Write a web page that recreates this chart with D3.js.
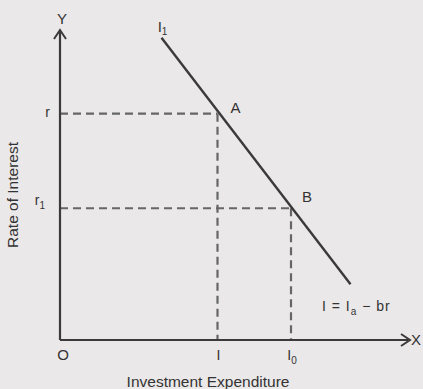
<!DOCTYPE html>
<html><head><meta charset="utf-8">
<script src="https://cdn.jsdelivr.net/npm/d3@7"></script>
<style>html,body{margin:0;padding:0;background:#ebe8e9;}svg{display:block;}</style>
</head><body>
<script>
// Data (abstract units)
const points = ["A", "B"];
const pointI = [4.5, 6.6];     // investment at A, B
const pointR = [7.3, 4.25];    // rate of interest at A, B
const xTickLabels = ["I", "I0"];
const yTickLabels = ["r", "r1"];
const lineI = [2.9, 8.3];      // investment demand curve endpoints
const lineR = [9.75, 1.8];

const W = 423, H = 389;
const svg = d3.select("body").append("svg").attr("width", W).attr("height", H)
  .style("font-family", "'Liberation Sans', Arial, sans-serif");
svg.append("rect").attr("width", W).attr("height", H).attr("fill", "#ebe8e9");

const x = d3.scaleLinear().domain([0, 10]).range([60, 410]);
const y = d3.scaleLinear().domain([0, 10]).range([340, 30]);
const ink = "#3a3a3a";

// dashed guides
points.forEach((p, i) => {
  svg.append("line").attr("x1", x(0)).attr("x2", x(pointI[i]))
    .attr("y1", y(pointR[i])).attr("y2", y(pointR[i]))
    .attr("stroke", "#666").attr("stroke-width", 2.2).attr("stroke-dasharray", "8,5");
  svg.append("line").attr("x1", x(pointI[i])).attr("x2", x(pointI[i]))
    .attr("y1", y(pointR[i])).attr("y2", y(0))
    .attr("stroke", "#666").attr("stroke-width", 2.2).attr("stroke-dasharray", "8,5");
});

// axes
svg.append("line").attr("x1", x(0)).attr("x2", x(0)).attr("y1", y(0)).attr("y2", y(9.95))
  .attr("stroke", ink).attr("stroke-width", 2.2);
svg.append("line").attr("x1", x(0)).attr("x2", x(9.95)).attr("y1", y(0)).attr("y2", y(0))
  .attr("stroke", ink).attr("stroke-width", 2.2);
// arrowheads
svg.append("path").attr("d", `M${x(0)-6},${y(10)+9} L${x(0)},${y(10)} L${x(0)+6},${y(10)+9}`)
  .attr("fill", "none").attr("stroke", ink).attr("stroke-width", 2);
svg.append("path").attr("d", `M${x(10)-9},${y(0)-6} L${x(10)},${y(0)} L${x(10)-9},${y(0)+6}`)
  .attr("fill", "none").attr("stroke", ink).attr("stroke-width", 2);

// demand curve
svg.append("path").datum(lineI.map((v, i) => [v, lineR[i]]))
  .attr("d", d3.line().x(d => x(d[0])).y(d => y(d[1])))
  .attr("fill", "none").attr("stroke", ink).attr("stroke-width", 2.4);

const txt = (t, px, py, size, anchor) => svg.append("text").attr("x", px).attr("y", py)
  .attr("font-size", size).attr("fill", "#333").attr("text-anchor", anchor || "middle").text(t);

// axis letters
txt("Y", x(0) + 2, 24, 15);
txt("X", x(10) + 6, y(0) + 5, 15);
txt("O", x(0) + 3, y(0) + 20, 15);

// tick labels
xTickLabels.forEach((t, i) => {
  const g = txt(t[0], x(pointI[i]) + 1, y(0) + 20, 14);
  if (t.length > 1) g.append("tspan").attr("font-size", 10).attr("dy", 4).text(t.slice(1));
});
yTickLabels.forEach((t, i) => {
  const g = txt(t[0], x(0) - 10, y(pointR[i]) + (i ? -3 : 3), 14, "end");
  if (t.length > 1) { g.attr("x", x(0) - 15); g.append("tspan").attr("font-size", 10).attr("dy", 4).text(t.slice(1)); }
});

// point labels
txt(points[0], x(pointI[0]) + 18, y(pointR[0]) - 1, 15);
txt(points[1], x(pointI[1]) + 16, y(pointR[1]) - 6, 15);

// curve labels
const l1 = txt("I", x(lineI[0]) + 1, y(lineR[0]) - 6, 15);
l1.append("tspan").attr("font-size", 10).attr("dy", 3).text("1");
const eq = svg.append("text").attr("x", 322).attr("y", 311).attr("font-size", 14)
  .attr("fill", "#333").attr("letter-spacing", 1);
eq.append("tspan").text("I = I");
eq.append("tspan").attr("font-size", 10).attr("dy", 4).text("a");
eq.append("tspan").attr("dy", -4).text(" \u2212 br");

// axis titles
txt("Investment Expenditure", 208, 387, 15.5);
svg.append("text").attr("transform", `translate(18,195) rotate(-90)`)
  .attr("text-anchor", "middle").attr("font-size", 15.5).attr("fill", "#333").text("Rate of Interest");
</script>
</body></html>
